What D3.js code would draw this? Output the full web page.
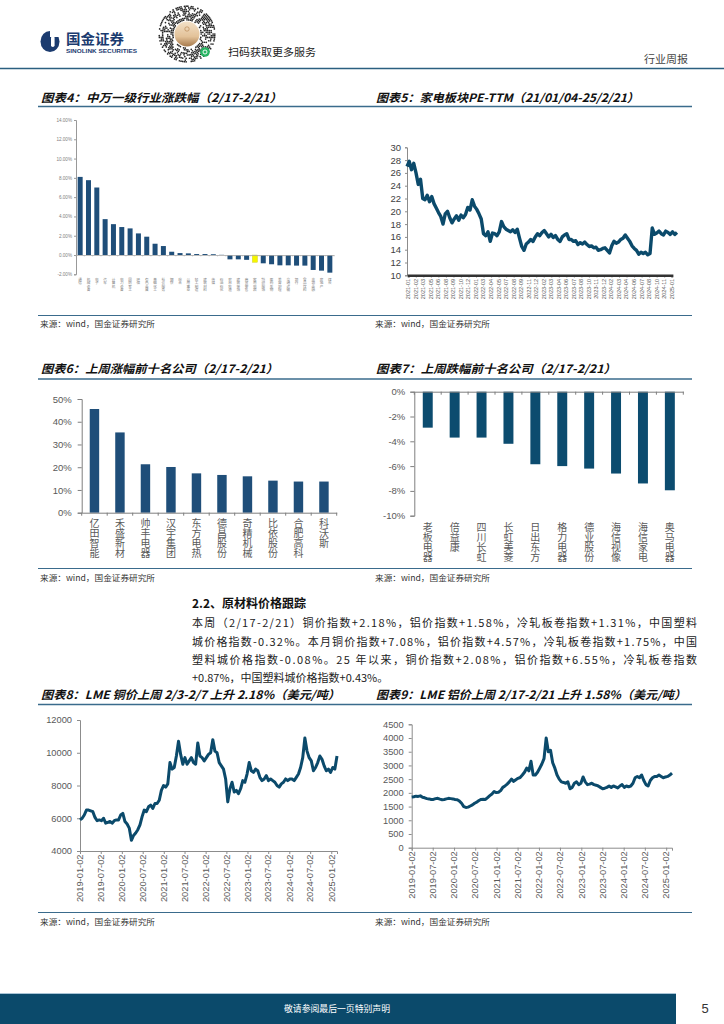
<!DOCTYPE html>
<html><head><meta charset="utf-8">
<script src="https://cdn.jsdelivr.net/npm/d3@7/dist/d3.min.js"></script>
<style>
html,body{margin:0;padding:0;background:#fff;width:724px;height:1024px;overflow:hidden}
svg{display:block}
</style></head><body>
<svg id="page" width="724" height="1024" viewBox="0 0 724 1024"></svg>
<script>
// ================= DATA =================
const swIndustries = ["通信","机械设备","电子","汽车","计算机","电力设备","国防军工","环保","有色金属","基础化工","社会服务","钢铁","综合","公用事业","轻工制造","建筑材料","传媒","石油石化","农林牧渔","建筑装饰","商贸零售","家用电器","纺织服饰","医药生物","美容护理","交通运输","银行","食品饮料","非银金融","房地产","煤炭"];
const swChanges = [8.1,7.76,7.0,3.72,3.2,2.9,2.76,2.24,1.9,1.17,0.93,0.34,0.2,0.17,0.1,0.1,0.08,0.02,-0.45,-0.45,-0.5,-0.75,-0.86,-0.96,-1.07,-1.07,-1.1,-1.1,-1.55,-1.62,-1.83];
const swHighlight = "家用电器";
const swTicks = [-2,0,2,4,6,8,10,12,14];

const peDateLabels = ["2021-01","2021-02","2021-03","2021-05","2021-06","2021-08","2021-09","2021-10","2021-12","2022-01","2022-03","2022-04","2022-05","2022-07","2022-08","2022-09","2022-11","2022-12","2023-02","2023-03","2023-04","2023-06","2023-07","2023-08","2023-10","2023-11","2023-12","2024-02","2024-03","2024-04","2024-06","2024-07","2024-08","2024-10","2024-11","2025-01"];
const peValues = [27.0,27.8,26.5,27.5,26.0,24.2,25.0,22.0,21.8,22.5,21.5,22.3,21.2,20.5,19.8,19.2,18.0,19.6,20.0,19.0,18.2,18.8,19.3,18.6,19.4,19.0,19.5,20.6,20.2,21.8,20.8,20.3,19.6,18.8,16.5,16.2,16.8,15.3,16.6,16.5,16.2,16.8,18.4,17.6,17.2,17.0,16.8,17.1,16.7,17.2,15.8,14.5,13.9,14.9,15.2,15.6,15.3,16.0,16.5,16.2,16.7,17.0,16.5,16.0,16.4,15.9,16.2,15.6,15.3,16.0,16.3,16.5,15.6,15.6,15.3,15.4,14.8,15.1,14.9,15.2,14.8,14.5,14.6,14.3,14.4,13.9,14.0,14.2,14.3,13.9,13.5,14.6,15.3,15.0,15.2,15.6,15.8,16.3,15.8,15.3,14.6,14.2,13.9,13.3,13.6,13.4,13.6,13.2,13.4,17.4,16.4,16.6,16.9,16.5,16.3,16.9,16.7,16.4,16.8,16.4,16.7];
const peTicks = [10,12,14,16,18,20,22,24,26,28,30];

const gainCompanies = ["亿田智能","禾盛新材","帅丰电器","汉宇集团","东方电热","德昌股份","奇精机械","比依股份","合肥高科","科沃斯"];
const gainValues = [45.6,35.3,21.3,20.1,17.3,16.6,16.0,14.1,13.7,13.7];
const gainTicks = [0,10,20,30,40,50];

const lossCompanies = ["老板电器","倍益康","四川长虹","长虹美菱","日出东方","格力电器","德业股份","海信视像","海信家电","奥马电器"];
const lossValues = [-2.9,-3.7,-3.7,-4.2,-5.85,-6.0,-6.2,-6.6,-7.4,-7.95];
const lossTicks = [0,-2,-4,-6,-8,-10];

const lmeDateLabels = ["2019-01-02","2019-07-02","2020-01-02","2020-07-02","2021-01-02","2021-07-02","2022-01-02","2022-07-02","2023-01-02","2023-07-02","2024-01-02","2024-07-02","2025-01-02"];
const lmeStart = "2019-01-02", lmeEnd = "2025-02-21";
const copperValues = [5900,6000,6200,6500,6500,6450,6400,6050,5850,5900,5850,6000,5700,5750,5800,5700,5850,5900,5900,6200,6300,5800,5650,5400,4650,4950,5100,5300,5600,6100,6500,6400,6700,6800,6600,6900,6900,7100,7700,8000,7900,8100,9400,9000,9100,9800,10700,9900,9300,9700,9300,9500,9700,9400,9300,10600,9800,9700,9500,9700,9900,10000,10800,10100,10000,9400,9200,9000,8400,7000,7800,8200,7600,7700,7500,7800,8300,8200,8700,9400,8900,8800,9000,8900,8500,8300,8400,8600,8300,8400,8300,8200,8000,7900,8100,8200,8400,8300,8400,8400,8300,8500,8700,9100,9700,10900,10100,9700,9500,8900,9100,9400,9800,9600,9200,8900,9000,8800,9100,9000,9800];
const copperTicks = [4000,6000,8000,10000,12000];
const alumValues = [1850,1860,1880,1870,1890,1840,1820,1790,1780,1760,1760,1790,1800,1770,1750,1760,1780,1800,1790,1780,1760,1750,1700,1620,1500,1470,1480,1520,1560,1620,1660,1720,1760,1770,1760,1830,1900,1960,2050,2010,2020,2080,2200,2250,2320,2400,2500,2420,2480,2530,2560,2650,2750,2900,2800,3150,2650,2650,2750,2900,3050,3250,4000,3500,3550,3100,2900,2650,2500,2400,2380,2350,2400,2150,2200,2350,2400,2300,2350,2580,2400,2300,2320,2350,2300,2280,2250,2200,2150,2170,2200,2250,2200,2250,2220,2180,2250,2300,2200,2250,2220,2250,2350,2550,2600,2550,2650,2450,2300,2250,2450,2550,2600,2600,2650,2600,2550,2580,2600,2650,2720];
const alumTicks = [0,500,1000,1500,2000,2500,3000,3500,4000,4500];

const paragraphLines = [
  "本周（2/17-2/21）铜价指数+2.18%，铝价指数+1.58%，冷轧板卷指数+1.31%，中国塑料",
  "城价格指数-0.32%。本月铜价指数+7.08%，铝价指数+4.57%，冷轧板卷指数+1.75%，中国",
  "塑料城价格指数-0.08%。25 年以来，铜价指数+2.08%，铝价指数+6.55%，冷轧板卷指数",
  "+0.87%，中国塑料城价格指数+0.43%。"
];

// ================= STYLE =================
const CJK = '"Noto Sans CJK SC", "Noto Sans", sans-serif';
const LAT = '"Liberation Sans", Arial, sans-serif';
const LINE_C = "#0b4a6b";
const BAR_C = "#1f4e79";
const BAR7_C = "#0c4c6f";
const GRAY = "#595959";
const AXIS_C = "#8c8c8c";
const RULE_C = "#3a6b8c";

const svg = d3.select("#page");

function txt(g, s, x, y, o = {}) {
  const t = g.append("text").attr("x", x).attr("y", y).text(s)
    .attr("font-family", o.ff || CJK).attr("font-size", o.fs || 10).attr("fill", o.fill || "#000");
  if (o.anchor) t.attr("text-anchor", o.anchor);
  if (o.fw) t.attr("font-weight", o.fw);
  if (o.fst) t.attr("font-style", o.fst);
  if (o.len) t.attr("textLength", o.len).attr("lengthAdjust", o.adj || "spacingAndGlyphs");
  return t;
}
function hline(g, x1, x2, y, c, w) {
  g.append("line").attr("x1", x1).attr("x2", x2).attr("y1", y).attr("y2", y).attr("stroke", c).attr("stroke-width", w);
}
// vertical (top-to-bottom, upright CJK) category labels
function vlabels(g, labels, xf, yTop, fs, fill) {
  g.append("g").selectAll("text").data(labels).join("text")
    .attr("x", d => xf(d)).attr("y", yTop)
    .style("writing-mode", "vertical-rl")
    .attr("font-family", CJK).attr("font-size", fs).attr("fill", fill).text(d => d);
}

// ================= HEADER =================
const hdr = svg.append("g");
hdr.append("ellipse").attr("cx", 50).attr("cy", 41.5).attr("rx", 9.5).attr("ry", 10.5).attr("fill", "#1b3b6f");
hdr.append("rect").attr("x", 50).attr("y", 30).attr("width", 11).attr("height", 7).attr("fill", "#fff");
hdr.append("rect").attr("x", 51).attr("y", 36).attr("width", 3.6).attr("height", 11).attr("rx", 1.8).attr("fill", "#fff");
txt(hdr, "国金证券", 66, 44, { fs: 14, fw: "bold", fill: "#1b3b6f", len: 58 });
txt(hdr, "SINOLINK SECURITIES", 66, 52.5, { ff: LAT, fs: 5.6, fw: "bold", fill: "#1b3b6f", len: 71 });

// mini-program code (decoration)
const qr = hdr.append("g");
const qcx = 187, qcy = 34;
d3.range(14.2, 29.5, 1.7).forEach((r, ri) => {
  const n = Math.floor(2 * Math.PI * r / 1.7);
  d3.range(n).forEach(k => {
    const h = Math.abs(Math.sin((ri + 1) * 12.9898 + k * 78.233) * 43758.5453) % 1;
    if (h > 0.38) {
      const a = k / n * 2 * Math.PI;
      qr.append("circle").attr("cx", qcx + r * Math.cos(a)).attr("cy", qcy + r * Math.sin(a))
        .attr("r", 0.85).attr("fill", "#262626");
    }
  });
});
const grad = svg.append("defs").append("linearGradient").attr("id", "qg").attr("x1", 0).attr("x2", 0).attr("y1", 0).attr("y2", 1);
grad.append("stop").attr("offset", "0%").attr("stop-color", "#f3e1c8");
grad.append("stop").attr("offset", "60%").attr("stop-color", "#e3c299");
grad.append("stop").attr("offset", "100%").attr("stop-color", "#a77a4c");
qr.append("circle").attr("cx", qcx).attr("cy", qcy).attr("r", 12.5).attr("fill", "url(#qg)");
qr.append("circle").attr("cx", qcx).attr("cy", qcy - 5).attr("r", 2.2).attr("fill", "none").attr("stroke", "#b27d4a").attr("stroke-width", 0.6);
qr.append("circle").attr("cx", 205).attr("cy", 52).attr("r", 4.8).attr("fill", "#28b463");
qr.append("circle").attr("cx", 205).attr("cy", 52).attr("r", 2).attr("fill", "none").attr("stroke", "#fff").attr("stroke-width", 0.9);

txt(hdr, "扫码获取更多服务", 228, 56, { fs: 10.5, fill: "#222", len: 88 });
txt(hdr, "行业周报", 644, 63, { fs: 10, fill: "#444", len: 44 });
hline(hdr, 0, 724, 68.5, "#2b5f80", 1.4);

// ================= TITLES / RULES =================
const deco = svg.append("g");
function title(s, x, y, len) {
  txt(deco, s, x, y, { fs: 11.5, fw: "bold", fst: "italic", fill: "#111", len: len });
}
function source(x, y) {
  txt(deco, "来源：wind，国金证券研究所", x, y, { fs: 8, fill: "#333", len: 115 });
}
title("图表4：中万一级行业涨跌幅（2/17-2/21）", 41, 101.5, 241);
title("图表5：家电板块PE-TTM（21/01/04-25/2/21）", 376, 101.5, 263);
hline(deco, 38, 692, 106.5, RULE_C, 1.3);
hline(deco, 38, 692, 315.5, RULE_C, 1.1);
source(40, 327); source(375, 327);

title("图表6：上周涨幅前十名公司（2/17-2/21）", 41, 373, 237);
title("图表7：上周跌幅前十名公司（2/17-2/21）", 376, 373, 240);
hline(deco, 38, 692, 379, RULE_C, 1.3);
hline(deco, 38, 692, 568.5, RULE_C, 1.1);
source(40, 581); source(375, 581);

title("图表8：LME 铜价上周 2/3-2/7 上升 2.18%（美元/吨）", 41, 698.5, 299);
title("图表9：LME 铝价上周 2/17-2/21 上升 1.58%（美元/吨）", 376, 698.5, 310);
hline(deco, 38, 692, 704.5, RULE_C, 1.3);
hline(deco, 38, 692, 912.5, RULE_C, 1.1);
source(40, 925); source(375, 925);

// ================= TEXT SECTION =================
const sec = svg.append("g");
txt(sec, "2.2、原材料价格跟踪", 192, 608, { fs: 12, fw: "bold", fill: "#111" });
const lineYs = [627, 645.5, 664, 682];
paragraphLines.forEach((s, i) => {
  txt(sec, s, 192, lineYs[i], { fs: 11, fill: "#222", len: i < 3 ? 505 : null, adj: "spacing" });
});

// ================= CHART 4 =================
(function () {
  const g = svg.append("g");
  const x = d3.scaleBand().domain(swIndustries).range([76, 334]).paddingInner(0.4).paddingOuter(0.2);
  const y = d3.scaleLinear().domain([-2, 14]).range([274.3, 120]);
  const ax = g.append("g").attr("transform", "translate(76,0)")
    .call(d3.axisLeft(y).tickValues(swTicks).tickFormat(d => d.toFixed(2) + "%").tickSize(2).tickPadding(2));
  ax.select(".domain").attr("stroke", "#999");
  ax.selectAll(".tick line").attr("stroke", "#999");
  ax.selectAll("text").attr("font-family", LAT).attr("font-size", 4.6).attr("fill", "#808080");
  g.append("g").selectAll("rect").data(swIndustries).join("rect")
    .attr("x", d => x(d)).attr("width", x.bandwidth())
    .attr("y", (d, i) => y(Math.max(0, swChanges[i])))
    .attr("height", (d, i) => Math.abs(y(swChanges[i]) - y(0)))
    .attr("fill", d => d === swHighlight ? "#f5f500" : BAR_C)
    .attr("stroke", d => d === swHighlight ? "#c9c900" : "none").attr("stroke-width", 0.4);
  const z = g.append("g").attr("transform", `translate(0,${y(0)})`)
    .call(d3.axisBottom(x).tickSize(0).tickFormat(""));
  z.select(".domain").attr("stroke", "#aaa").attr("stroke-width", 0.8);
  g.append("g").selectAll("line").data(d3.range(swIndustries.length + 1)).join("line")
    .attr("x1", i => x.range()[0] + i * x.step()).attr("x2", i => x.range()[0] + i * x.step())
    .attr("y1", y(0)).attr("y2", y(0) + 1.5).attr("stroke", "#aaa").attr("stroke-width", 0.5);
  vlabels(g, swIndustries, d => x(d) + x.bandwidth() / 2, 277.5, 3.6, "#808080");
})();

// ================= CHART 5 =================
(function () {
  const g = svg.append("g");
  const x = d3.scaleLinear().domain([0, peValues.length - 1]).range([407, 677]);
  const xl = d3.scalePoint().domain(peDateLabels).range([408.3, 671.7]);
  const y = d3.scaleLinear().domain([10, 30]).range([275.3, 147.3]);
  const ax = g.append("g").attr("transform", "translate(407,0)")
    .call(d3.axisLeft(y).tickValues(peTicks).tickSize(2).tickPadding(4));
  ax.select(".domain").attr("stroke", AXIS_C);
  ax.selectAll(".tick line").attr("stroke", AXIS_C);
  ax.selectAll("text").attr("font-family", LAT).attr("font-size", 9.5).attr("fill", "#404040");
  g.append("path").datum(peValues)
    .attr("d", d3.line().x((d, i) => x(i)).y(d => y(d)))
    .attr("fill", "none").attr("stroke", LINE_C).attr("stroke-width", 3.4).attr("stroke-linejoin", "round");
  const bx = g.append("g").attr("transform", `translate(0,${y(10)})`)
    .call(d3.axisBottom(xl).tickSize(2).tickFormat(""));
  bx.select(".domain").attr("stroke", "#333").attr("stroke-width", 2.4);
  bx.selectAll(".tick line").attr("stroke", "#333");
  g.append("g").selectAll("text").data(peDateLabels).join("text")
    .attr("transform", d => `translate(${xl(d)},279) rotate(-90)`)
    .attr("text-anchor", "end").attr("dy", "0.35em")
    .attr("font-family", LAT).attr("font-size", 5.5).attr("fill", "#555").text(d => d);
})();

// ================= CHART 6 =================
(function () {
  const g = svg.append("g");
  const x = d3.scaleBand().domain(gainCompanies).range([81.7, 336.7]).paddingInner(0.63).paddingOuter(0.315);
  const y = d3.scaleLinear().domain([0, 50]).range([512.7, 399]);
  const ax = g.append("g").attr("transform", "translate(81.7,0)")
    .call(d3.axisLeft(y).tickValues(gainTicks).tickFormat(d => d + "%").tickSize(4).tickPadding(6));
  ax.select(".domain").attr("stroke", "#7f7f7f");
  ax.selectAll(".tick line").attr("stroke", "#7f7f7f");
  ax.selectAll("text").attr("font-family", LAT).attr("font-size", 9.5).attr("fill", GRAY);
  g.append("g").selectAll("rect").data(gainCompanies).join("rect")
    .attr("x", d => x(d)).attr("width", x.bandwidth())
    .attr("y", (d, i) => y(gainValues[i])).attr("height", (d, i) => y(0) - y(gainValues[i]))
    .attr("fill", BAR_C);
  const bx = g.append("g").attr("transform", `translate(0,${y(0)})`)
    .call(d3.axisBottom(x).tickSize(0).tickFormat(""));
  bx.select(".domain").attr("stroke", "#7f7f7f");
  g.append("g").selectAll("line").data(d3.range(gainCompanies.length + 1)).join("line")
    .attr("x1", i => x.range()[0] + i * x.step()).attr("x2", i => x.range()[0] + i * x.step())
    .attr("y1", y(0)).attr("y2", y(0) + 3).attr("stroke", "#7f7f7f");
  vlabels(g, gainCompanies, d => x(d) + x.bandwidth() / 2, 518, 10, GRAY);
})();

// ================= CHART 7 =================
(function () {
  const g = svg.append("g");
  const x = d3.scaleBand().domain(lossCompanies).range([414.3, 683.3]).paddingInner(0.63).paddingOuter(0.315);
  const y = d3.scaleLinear().domain([-10, 0]).range([515.7, 391.7]);
  const ax = g.append("g").attr("transform", "translate(414.3,0)")
    .call(d3.axisLeft(y).tickValues(lossTicks).tickFormat(d => d + "%").tickSize(4).tickPadding(5));
  ax.select(".domain").attr("stroke", "#7f7f7f");
  ax.selectAll(".tick line").attr("stroke", "#7f7f7f");
  ax.selectAll("text").attr("font-family", LAT).attr("font-size", 9.5).attr("fill", GRAY);
  g.append("g").selectAll("rect").data(lossCompanies).join("rect")
    .attr("x", d => x(d)).attr("width", x.bandwidth())
    .attr("y", y(0)).attr("height", (d, i) => y(lossValues[i]) - y(0))
    .attr("fill", BAR7_C);
  const bx = g.append("g").attr("transform", `translate(0,${y(0)})`)
    .call(d3.axisBottom(x).tickSize(0).tickFormat(""));
  bx.select(".domain").attr("stroke", "#7f7f7f");
  g.append("g").selectAll("line").data(d3.range(lossCompanies.length + 1)).join("line")
    .attr("x1", i => x.range()[0] + i * x.step()).attr("x2", i => x.range()[0] + i * x.step())
    .attr("y1", y(0)).attr("y2", y(0) + 3).attr("stroke", "#7f7f7f");
  vlabels(g, lossCompanies, d => x(d) + x.bandwidth() / 2, 522, 10, GRAY);
})();

// ================= CHARTS 8 & 9 =================
function lmeChart(values, ticks, yDomain, yRange, xRange, labelFs) {
  const g = svg.append("g");
  const parse = d3.timeParse("%Y-%m-%d");
  const xt = d3.scaleTime().domain([parse(lmeStart), parse(lmeEnd)]).range(xRange);
  const xi = d3.scaleLinear().domain([0, values.length - 1]).range(xRange);
  const y = d3.scaleLinear().domain(yDomain).range(yRange);
  const ax = g.append("g").attr("transform", `translate(${xRange[0]},0)`)
    .call(d3.axisLeft(y).tickValues(ticks).tickFormat(d3.format("d")).tickSize(3).tickPadding(5));
  ax.select(".domain").attr("stroke", AXIS_C);
  ax.selectAll(".tick line").attr("stroke", AXIS_C);
  ax.selectAll("text").attr("font-family", LAT).attr("font-size", labelFs).attr("fill", GRAY);
  const bx = g.append("g").attr("transform", `translate(0,${yRange[0]})`)
    .call(d3.axisBottom(xt).tickValues(lmeDateLabels.map(parse)).tickSize(3).tickFormat(""));
  bx.select(".domain").attr("stroke", AXIS_C);
  bx.selectAll(".tick line").attr("stroke", AXIS_C);
  g.append("g").selectAll("text").data(lmeDateLabels).join("text")
    .attr("transform", d => `translate(${xt(parse(d))},${yRange[0] + 3.5}) rotate(-90)`)
    .attr("text-anchor", "end").attr("dy", "0.35em")
    .attr("font-family", LAT).attr("font-size", 9.3).attr("fill", GRAY).text(d => d);
  g.append("path").datum(values)
    .attr("d", d3.line().x((d, i) => xi(i)).y(d => y(d)))
    .attr("fill", "none").attr("stroke", LINE_C).attr("stroke-width", 3).attr("stroke-linejoin", "round");
}
lmeChart(copperValues, copperTicks, [4000, 12000], [851, 720], [80, 337], 9.3);
lmeChart(alumValues, alumTicks, [0, 4500], [847.7, 724.3], [411.7, 672], 9.3);

// ================= FOOTER =================
const ft = svg.append("g");
ft.append("rect").attr("x", 0).attr("y", 994).attr("width", 676).attr("height", 30).attr("fill", "#0b4a6b");
hline(ft, 0, 676, 993.5, "#a9c4d6", 1);
txt(ft, "敬请参阅最后一页特别声明", 337, 1012, { fs: 8.8, fill: "#fff", anchor: "middle", len: 106 });
txt(ft, "5", 705, 1013, { ff: LAT, fs: 13, fill: "#333", anchor: "middle" });
</script>
</body></html>
